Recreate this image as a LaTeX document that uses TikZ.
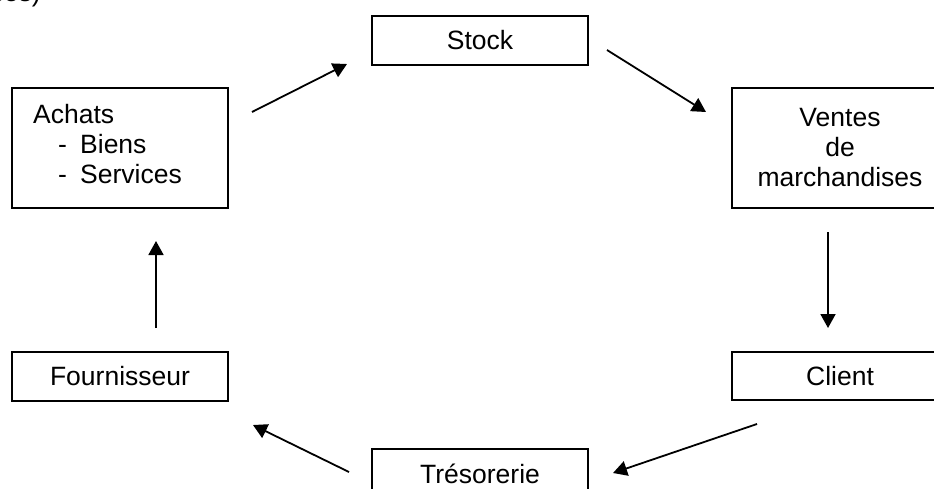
\documentclass[tikz,border=0pt]{standalone}
\usepackage{fontspec}
\setmainfont{Liberation Sans}
\usetikzlibrary{arrows.meta}
\tikzset{
  boxnode/.style={draw=black, line width=1.8pt, rectangle, minimum width=216pt, inner sep=0pt, align=center},
  txt/.style={inner sep=0pt, anchor=base west},
  flow/.style={line width=1.8pt, -{Triangle[length=14pt,width=15pt]}}
}
\begin{document}
\fontsize{26.5}{30}\selectfont
\begin{tikzpicture}[x=1pt,y=-1pt]
\useasboundingbox (0,0) rectangle (934,488);
\clip (0,0) rectangle (934,488);
% cut-off text at the top
\node[inner sep=0pt, anchor=base east] (cut) at (41,1) {ces)};
% boxes
\node[boxnode, minimum height=120pt] (achats) at (120,148) {};
\node[txt] (achatsT) at (33,123) {Achats};
\node[txt] (d1) at (58,153) {-};
\node[txt] (biens) at (80,153) {Biens};
\node[txt] (d2) at (58,183) {-};
\node[txt] (services) at (80,183) {Services};
\node[boxnode, minimum height=49pt] (stock) at (480,40.5) {Stock};
\node[boxnode, minimum height=120pt] (ventes) at (840,148) {Ventes\\de\\marchandises};
\node[boxnode, minimum height=48pt] (client) at (840,376) {Client};
\node[boxnode, minimum height=49pt] (fourn) at (120,376.5) {Fournisseur};
\node[boxnode, minimum height=50pt] (treso) at (480,474) {Trésorerie};
% arrow end points
\coordinate (a1s) at (252,112); \coordinate (a1e) at (347,64);
\coordinate (a2s) at (607,50);  \coordinate (a2e) at (706,112);
\coordinate (a3s) at (828,232); \coordinate (a3e) at (828,328);
\coordinate (a4s) at (757,424); \coordinate (a4e) at (613,473);
\coordinate (a5s) at (349,472); \coordinate (a5e) at (253,425);
\coordinate (a6s) at (156,328); \coordinate (a6e) at (156,241);
\draw[flow] (a1s) -- (a1e);
\draw[flow] (a2s) -- (a2e);
\draw[flow] (a3s) -- (a3e);
\draw[flow] (a4s) -- (a4e);
\draw[flow] (a5s) -- (a5e);
\draw[flow] (a6s) -- (a6e);
\end{tikzpicture}
\end{document}
